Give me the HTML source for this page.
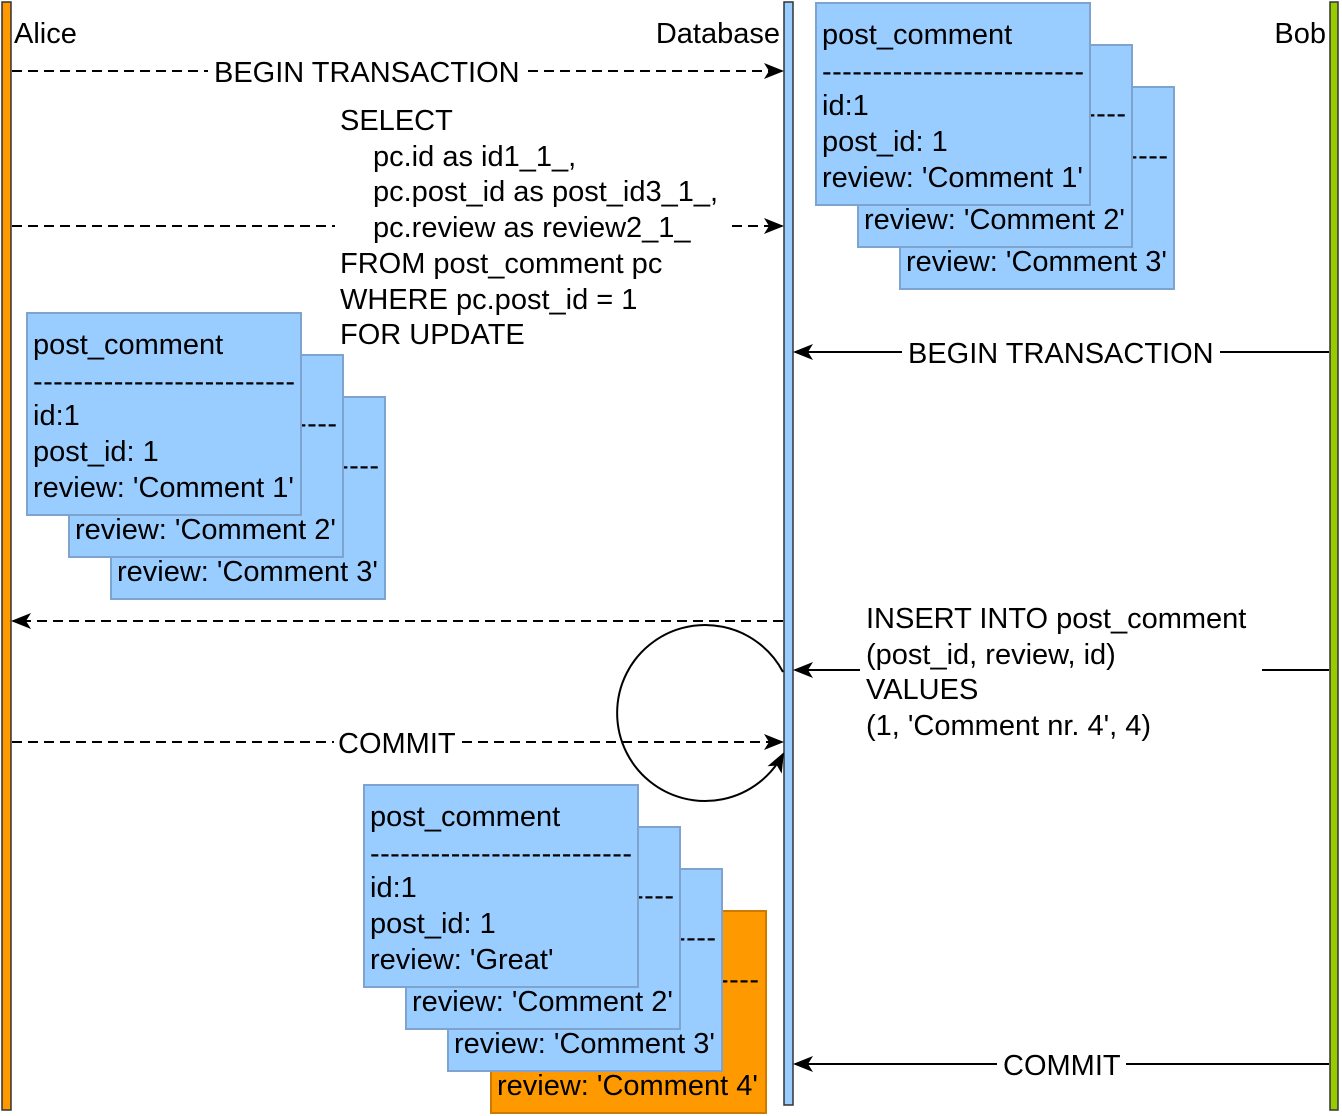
<!DOCTYPE html>
<html><head><meta charset="utf-8"><style>
html,body{margin:0;padding:0;background:#fff;}
svg{display:block;}
text{font-family:"Liberation Sans",Arial,sans-serif;font-size:29px;fill:#000;}
</style></head><body>
<svg width="1342" height="1116" viewBox="0 0 1342 1116" xmlns="http://www.w3.org/2000/svg">
<defs>
<marker id="ah" viewBox="0 0 20 20" refX="18" refY="10" markerWidth="20" markerHeight="20" markerUnits="userSpaceOnUse" orient="auto">
<path d="M0,2 L20,10 L0,18 L5,10 Z" fill="#000"/>
</marker>
<g id="card">
<rect x="0" y="0" width="274" height="202" fill="#99CCFF" stroke="#7FA3CF" stroke-width="2"/>
</g>
</defs>

<rect x="2" y="2" width="9" height="1108" fill="#FF9900" stroke="#333" stroke-width="1.5"/>
<rect x="784" y="2" width="9" height="1103" fill="#99CCFF" stroke="#333" stroke-width="1.5"/>
<rect x="1330" y="2" width="8" height="1108" fill="#99CC00" stroke="#333" stroke-width="1.5"/>

<text x="14" y="43">Alice</text>
<text x="780" y="43" text-anchor="end">Database</text>
<text x="1326" y="43" text-anchor="end">Bob</text>

<g stroke="#000" stroke-width="2" fill="none" stroke-dasharray="10,6">
<line x1="12" y1="71" x2="208" y2="71"/>
<line x1="528" y1="71" x2="782" y2="71" marker-end="url(#ah)"/>
<line x1="12" y1="226" x2="335" y2="226"/>
<line x1="732" y1="226" x2="782" y2="226" marker-end="url(#ah)"/>
<line x1="783" y1="621" x2="13" y2="621" marker-end="url(#ah)"/>
<line x1="12" y1="742" x2="334" y2="742"/>
<line x1="462" y1="742" x2="782" y2="742" marker-end="url(#ah)"/>
</g>
<text x="214" y="82">BEGIN TRANSACTION</text>
<text x="340" y="130">SELECT</text>
<text x="373" y="166">pc.id as id1_1_,</text>
<text x="373" y="201">pc.post_id as post_id3_1_,</text>
<text x="373" y="237">pc.review as review2_1_</text>
<text x="340" y="273">FROM post_comment pc</text>
<text x="340" y="309">WHERE pc.post_id = 1</text>
<text x="340" y="344">FOR UPDATE</text>
<text x="338" y="753">COMMIT</text>

<g stroke="#000" stroke-width="2" fill="none">
<line x1="1329" y1="352" x2="1220" y2="352"/>
<line x1="902" y1="352" x2="795" y2="352" marker-end="url(#ah)"/>
<line x1="1329" y1="670" x2="1262" y2="670"/>
<line x1="860" y1="670" x2="795" y2="670" marker-end="url(#ah)"/>
<line x1="1329" y1="1064" x2="1126" y2="1064"/>
<line x1="997" y1="1064" x2="795" y2="1064" marker-end="url(#ah)"/>
<path d="M783,672 A88,88 0 1,0 783,754" marker-end="url(#ah)"/>
</g>
<text x="908" y="363">BEGIN TRANSACTION</text>
<text x="866" y="628">INSERT INTO post_comment</text>
<text x="866" y="664">(post_id, review, id)</text>
<text x="866" y="699">VALUES</text>
<text x="866" y="735">(1, 'Comment nr. 4', 4)</text>
<text x="1003" y="1075">COMMIT</text>

<g transform="translate(900,87)"><use href="#card"/><text x="6" y="41">post_comment</text><text x="6" y="78" textLength="262" lengthAdjust="spacing">--------------------------</text><text x="6" y="184">review: 'Comment 3'</text></g>
<g transform="translate(858,45)"><use href="#card"/><text x="6" y="41">post_comment</text><text x="6" y="78" textLength="262" lengthAdjust="spacing">--------------------------</text><text x="6" y="184">review: 'Comment 2'</text></g>
<g transform="translate(816,3)"><use href="#card"/><text x="6" y="41">post_comment</text><text x="6" y="78" textLength="262" lengthAdjust="spacing">--------------------------</text><text x="6" y="112">id:1</text><text x="6" y="148">post_id: 1</text><text x="6" y="184">review: 'Comment 1'</text></g>

<g transform="translate(111,397)"><use href="#card"/><text x="6" y="41">post_comment</text><text x="6" y="78" textLength="262" lengthAdjust="spacing">--------------------------</text><text x="6" y="184">review: 'Comment 3'</text></g>
<g transform="translate(69,355)"><use href="#card"/><text x="6" y="41">post_comment</text><text x="6" y="78" textLength="262" lengthAdjust="spacing">--------------------------</text><text x="6" y="184">review: 'Comment 2'</text></g>
<g transform="translate(27,313)"><use href="#card"/><text x="6" y="41">post_comment</text><text x="6" y="78" textLength="262" lengthAdjust="spacing">--------------------------</text><text x="6" y="112">id:1</text><text x="6" y="148">post_id: 1</text><text x="6" y="184">review: 'Comment 1'</text></g>

<g transform="translate(491,911)"><rect x="0" y="0" width="275" height="202" fill="#FF9900" stroke="#CC7A00" stroke-width="2"/><text x="6" y="41">post_comment</text><text x="6" y="78" textLength="262" lengthAdjust="spacing">--------------------------</text><text x="6" y="184">review: 'Comment 4'</text></g>
<g transform="translate(448,869)"><use href="#card"/><text x="6" y="41">post_comment</text><text x="6" y="78" textLength="262" lengthAdjust="spacing">--------------------------</text><text x="6" y="184">review: 'Comment 3'</text></g>
<g transform="translate(406,827)"><use href="#card"/><text x="6" y="41">post_comment</text><text x="6" y="78" textLength="262" lengthAdjust="spacing">--------------------------</text><text x="6" y="184">review: 'Comment 2'</text></g>
<g transform="translate(364,785)"><use href="#card"/><text x="6" y="41">post_comment</text><text x="6" y="78" textLength="262" lengthAdjust="spacing">--------------------------</text><text x="6" y="112">id:1</text><text x="6" y="148">post_id: 1</text><text x="6" y="184">review: 'Great'</text></g>
</svg>
</body></html>
